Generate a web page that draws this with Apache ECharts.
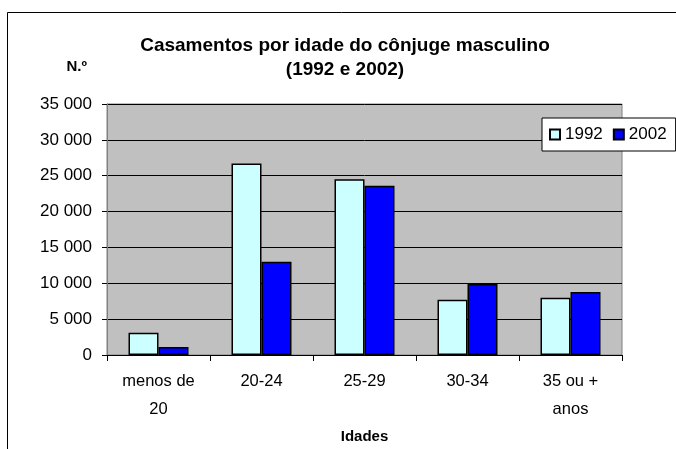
<!DOCTYPE html>
<html>
<head>
<meta charset="utf-8">
<script src="https://cdn.jsdelivr.net/npm/echarts@6/dist/echarts.min.js"></script>
<style>
  html, body { margin: 0; padding: 0; background: #fff; }
  #chart { width: 676px; height: 449px; }
</style>
</head>
<body>
<div id="chart"></div>
<script>
const categories = ['menos de\n20', '20-24', '25-29', '30-34', '35 ou +\nanos']
const values1992 = [3100, 26700, 24500, 7700, 8000]
const values2002 = [1100, 13000, 23600, 9900, 8800]
const seriesNames = ['1992', '2002']

const font = '"Liberation Sans", Arial, sans-serif'

function fmt(v) {
  return String(v).replace(/\B(?=(\d{3})+(?!\d))/g, ' ')
}

const chart = echarts.init(document.getElementById('chart'))
chart.setOption({
  backgroundColor: '#fff',
  animation: false,
  textStyle: { fontFamily: font },
  title: {
    text: 'Casamentos por idade do cônjuge masculino\n(1992 e 2002)',
    left: 340,
    top: 29,
    textAlign: 'center',
    textStyle: { fontFamily: font, fontSize: 19, fontWeight: 'bold', color: '#000', lineHeight: 24 }
  },
  legend: {
    data: seriesNames,
    orient: 'horizontal',
    left: 542,
    top: 118,
    width: 128,
    padding: [8, 9, 8, 7],
    itemGap: 10,
    itemWidth: 10,
    itemHeight: 10,
    icon: 'rect',
    backgroundColor: '#fff',
    borderColor: '#000',
    borderWidth: 1,
    textStyle: { fontFamily: font, fontSize: 17, color: '#000' }
  },
  graphic: [
    {
      type: 'polyline',
      shape: { points: [[7.5, 449], [7.5, 12.5], [676, 12.5]] },
      style: { stroke: '#000', lineWidth: 1, fill: null },
      silent: true
    }
  ],
  grid: {
    left: 107,
    right: 54,
    top: 104,
    bottom: 94,
    show: true,
    backgroundColor: '#C0C0C0',
    borderColor: '#808080',
    borderWidth: 1
  },
  xAxis: {
    type: 'category',
    data: categories,
    name: 'Idades',
    nameLocation: 'middle',
    nameGap: 74,
    nameTextStyle: { fontFamily: font, fontSize: 15, fontWeight: 'bold', color: '#000' },
    axisLine: { lineStyle: { color: '#000', width: 1 } },
    axisTick: { show: true, length: 6, lineStyle: { color: '#000' } },
    axisLabel: { fontFamily: font, fontSize: 16.5, color: '#000', lineHeight: 28, margin: 12, interval: 0 }
  },
  yAxis: {
    type: 'value',
    min: 0,
    max: 35000,
    interval: 5000,
    name: 'N.º',
    nameLocation: 'end',
    nameGap: 30,
    nameTextStyle: { fontFamily: font, fontSize: 15, fontWeight: 'bold', color: '#000', align: 'right', padding: [0, 20, 0, 0] },
    axisLine: { show: true, lineStyle: { color: '#808080', width: 1 } },
    axisTick: { show: true, length: 5, lineStyle: { color: '#000' } },
    axisLabel: { fontFamily: font, fontSize: 17, color: '#000', margin: 15, formatter: fmt },
    splitLine: { show: true, lineStyle: { color: '#000', width: 1 } }
  },
  series: [
    {
      name: seriesNames[0],
      type: 'bar',
      data: values1992,
      barWidth: 30,
      barGap: '0%',
      itemStyle: { color: '#CCFFFF', borderColor: '#000', borderWidth: 1.5 }
    },
    {
      name: seriesNames[1],
      type: 'bar',
      data: values2002,
      barWidth: 30,
      barGap: '0%',
      itemStyle: { color: '#0000FF', borderColor: '#000', borderWidth: 1.5 }
    }
  ]
})
</script>
</body>
</html>
